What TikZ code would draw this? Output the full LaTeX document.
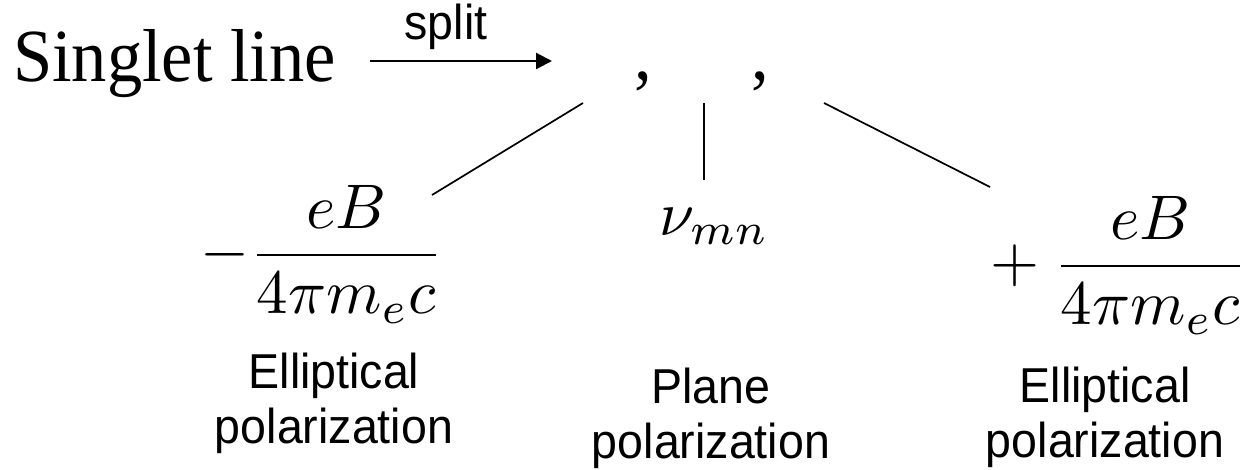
\documentclass[tikz,border=0pt]{standalone}
\usepackage{graphicx}
\usepackage{fontspec}
\usetikzlibrary{arrows.meta}
\newfontfamily\titlefont[FakeStretch=0.94]{Liberation Serif}
\newfontfamily\labfont[FakeStretch=0.95]{Liberation Sans}
\newcommand{\zmath}[1]{\scalebox{6.3}{$#1$}}
\begin{document}
\begin{tikzpicture}[x=1pt,y=1pt,
  every node/.style={inner sep=0pt, outer sep=0pt},
  titletext/.style={font=\titlefont\fontsize{75}{80}\selectfont},
  labeltext/.style={font=\labfont\fontsize{49}{55}\selectfont, align=center, anchor=north},
  splittext/.style={font=\labfont\fontsize{49}{55}\selectfont},
  branch/.style={line width=1.7pt},
  arrowline/.style={line width=2.2pt, -{Triangle[length=16pt,width=16pt]}}
]
\useasboundingbox (0,0) rectangle (1241,469);
% title and arrow
\node[titletext, anchor=base west] (title) at (13,387) {Singlet line};
\coordinate (arrS) at (370,408);
\coordinate (arrE) at (552,408);
\draw[arrowline] (arrS) -- (arrE);
\node[splittext, anchor=base] (split) at (446,429) {split};
% commas
\node[titletext, anchor=base] (c1) at (643,389) {,};
\node[titletext, anchor=base] (c2) at (760,389) {,};
% branches
\coordinate (l1a) at (583,366);
\coordinate (l1b) at (432,274);
\coordinate (l2a) at (704,366);
\coordinate (l2b) at (704,289);
\coordinate (l3a) at (824,366);
\coordinate (l3b) at (990,282);
\draw[branch] (l1a) -- (l1b);
\draw[branch] (l2a) -- (l2b);
\draw[branch] (l3a) -- (l3b);
% math
\node[anchor=base west] (fl) at (200,198.25) {\zmath{\displaystyle -\frac{eB}{4\pi m_e c}}};
\node[anchor=base west] (nu) at (659,234) {\zmath{\nu_{mn}}};
\node[anchor=base east] (fr) at (1247.6,187.25) {\zmath{\displaystyle {}+\frac{eB}{4\pi m_e c}}};
% labels
\node[labeltext] (lab1) at (334,116) {Elliptical\\polarization};
\node[labeltext] (lab2) at (711,101) {Plane\\polarization};
\node[labeltext] (lab3) at (1105,102) {Elliptical\\polarization};
\end{tikzpicture}
\end{document}
